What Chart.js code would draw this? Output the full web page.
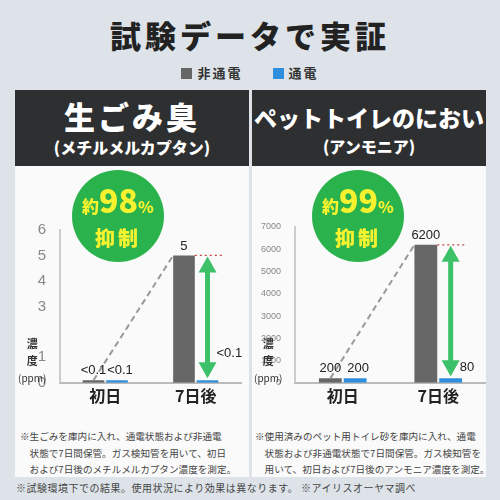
<!DOCTYPE html>
<html><head><meta charset="utf-8">
<script src="https://cdn.jsdelivr.net/npm/chart.js@4/dist/chart.umd.min.js"></script>
<style>
body{margin:0;width:500px;height:500px;background:#dde3e8;font-family:"Noto Sans CJK JP","Noto Sans",sans-serif;position:relative;overflow:hidden}
.a{position:absolute}
.title{left:0;width:500px;top:12px;text-align:center;font-size:31px;font-weight:900;color:#222;letter-spacing:4px}
.leg{left:0;width:500px;top:63px;text-align:center;font-size:13px;font-weight:700;color:#333;letter-spacing:2px}
.leg i{display:inline-block;width:11px;height:11px;vertical-align:-1px;margin-right:5px}
.panel{top:90px;width:234px;height:387px;background:#fafafa}
.head{top:90px;width:234px;height:76px;background:#2e2f31;color:#fff;text-align:center;font-weight:900}
.circ{width:92px;height:92px;border-radius:50%;background:#2ab24c;color:#f7f230;text-align:center;font-weight:900;z-index:5}
.note{font-size:9.6px;color:#444;line-height:16.5px;white-space:nowrap}
.yt{font-size:11px;color:#333;text-align:center;line-height:17px;font-weight:700}
</style></head><body>
<div class="a title">試験データで実証</div>
<div class="a leg"><i style="background:#666"></i>非通電　　<i style="background:#2f8fdc"></i>通電</div>
<div class="a panel" style="left:15px"></div>
<div class="a panel" style="left:252px"></div>
<div class="a head" style="left:15px"><div style="font-size:31px;line-height:42px;margin-top:5px;letter-spacing:3px">生ごみ臭</div><div style="font-size:16px;line-height:20px">(メチルメルカプタン)</div></div>
<div class="a head" style="left:252px"><div style="font-size:23px;line-height:38px;margin-top:8px">ペットトイレのにおい</div><div style="font-size:16px;line-height:20px">(アンモニア)</div></div>
<div class="a circ" style="left:72px;top:170px"><div style="margin-top:12px;font-size:32px;line-height:34px"><span style="font-size:17px">約</span>98<span style="font-size:16px">%</span></div><div style="font-size:20px;letter-spacing:3px">抑制</div></div>
<div class="a circ" style="left:312px;top:170px"><div style="margin-top:12px;font-size:32px;line-height:34px"><span style="font-size:17px">約</span>99<span style="font-size:16px">%</span></div><div style="font-size:20px;letter-spacing:3px">抑制</div></div>
<canvas class="a" id="c1" style="left:15px;top:215px;width:234px;height:195px" width="234" height="195"></canvas>
<canvas class="a" id="c2" style="left:252px;top:215px;width:234px;height:195px" width="234" height="195"></canvas>
<div class="a yt" style="left:18px;top:335px">濃<br>度<br><span style="font-weight:400;font-size:10px">(ppm)</span></div>
<div class="a yt" style="left:254px;top:335px">濃<br>度<br><span style="font-weight:400;font-size:10px">(ppm)</span></div>
<div class="a note" style="left:20px;top:428px">※生ごみを庫内に入れ、通電状態および非通電<br>　状態で7日間保管。ガス検知管を用いて、初日<br>　および7日後のメチルメルカプタン濃度を測定。</div>
<div class="a note" style="left:255px;top:428px">※使用済みのペット用トイレ砂を庫内に入れ、通電<br>　状態および非通電状態で7日間保管。ガス検知管を<br>　用いて、初日および7日後のアンモニア濃度を測定。</div>
<div class="a" style="left:16px;top:480px;font-size:10px;color:#444;white-space:nowrap;letter-spacing:0.5px">※試験環境下での結果。使用状況により効果は異なります。 ※アイリスオーヤマ調べ</div>
<script>
const categories=["初日","7日後"];
const seriesNames=["非通電","通電"];
const odorOff=[0.1,5];
const odorOn=[0.1,0.1];
const odorLabelsOff=["<0.1","5"];
const odorLabelsOn=["<0.1","<0.1"];
const petOff=[200,6200];
const petOn=[200,200];
const petLabelsOff=["200","6200"];
const petLabelsOn=["200","80"];
const leftTicks=[0,1,3,4,5,6];
const rightTicks=[0,1000,2000,3000,4000,5000,6000,7000];

function make(id,off,on,lOff,lOn,max,ticks,yw,tickFont,padR){
 const deco={id:'deco',afterDatasetsDraw(ch){
  const c=ch.ctx,g=ch.getDatasetMeta(0).data,b=ch.getDatasetMeta(1).data;
  c.save();
  c.strokeStyle='#999';c.lineWidth=2;c.setLineDash([6,4]);
  c.beginPath();c.moveTo(g[0].x,g[0].y);c.lineTo(g[1].x-g[1].width/2,g[1].y);c.stroke();
  c.setLineDash([2,3]);c.lineWidth=1.2;c.strokeStyle='#c44';
  c.beginPath();c.moveTo(g[1].x+g[1].width/2,g[1].y);c.lineTo(b[1].x+b[1].width/2+4,g[1].y);c.stroke();
  c.setLineDash([]);
  const ax=b[1].x,y1=g[1].y+1,y2=b[1].y-2;c.fillStyle='#3cc068';c.strokeStyle='#3cc068';c.lineWidth=5;
  c.beginPath();c.moveTo(ax,y1+12);c.lineTo(ax,y2-12);c.stroke();
  c.beginPath();c.moveTo(ax,y1);c.lineTo(ax-9,y1+16);c.lineTo(ax+9,y1+16);c.fill();
  c.beginPath();c.moveTo(ax,y2);c.lineTo(ax-9,y2-16);c.lineTo(ax+9,y2-16);c.fill();
  c.fillStyle='#222';c.font='13px "Liberation Sans",Arial';c.textAlign='center';c.textBaseline='bottom';
  c.fillText(lOff[0],g[0].x,g[0].y-3);c.fillText(lOn[0],b[0].x+3,b[0].y-3);c.fillText(lOff[1],g[1].x,g[1].y-3);
  c.textAlign='left';c.fillText(lOn[1],b[1].x+9,b[1].y-(max<10?20:4));
  c.restore();}};
 new Chart(document.getElementById(id),{type:'bar',
  data:{labels:categories,datasets:[
   {label:seriesNames[0],data:off,backgroundColor:'#676767',barPercentage:0.92,categoryPercentage:0.52},
   {label:seriesNames[1],data:on,backgroundColor:'#2f8fdc',barPercentage:0.92,categoryPercentage:0.52}]},
  options:{responsive:false,animation:false,layout:{padding:{top:12,right:padR}},
   plugins:{legend:{display:false},tooltip:{enabled:false}},
   scales:{
    x:{grid:{display:false,drawTicks:false},border:{color:'#bbb',width:2},ticks:{color:'#222',font:{size:16,weight:'bold',family:'"Noto Sans CJK JP"'},padding:4}},
    y:{min:0,max:max,grid:{display:false},border:{color:'#ccc',width:2},
     afterFit(s){s.width=yw;},
     afterBuildTicks(s){s.ticks=ticks.map(v=>({value:v}));},
     ticks:{color:'#888',font:{size:tickFont,family:'"Liberation Sans",Arial'},padding:6,callback:v=>String(v)}}}},
  plugins:[deco]});
}
make('c1',odorOff,odorOn,odorLabelsOff,odorLabelsOn,6,leftTicks,45,15,8);
make('c2',petOff,petOn,petLabelsOff,petLabelsOn,7000,rightTicks,43,9,0);
</script></body></html>
